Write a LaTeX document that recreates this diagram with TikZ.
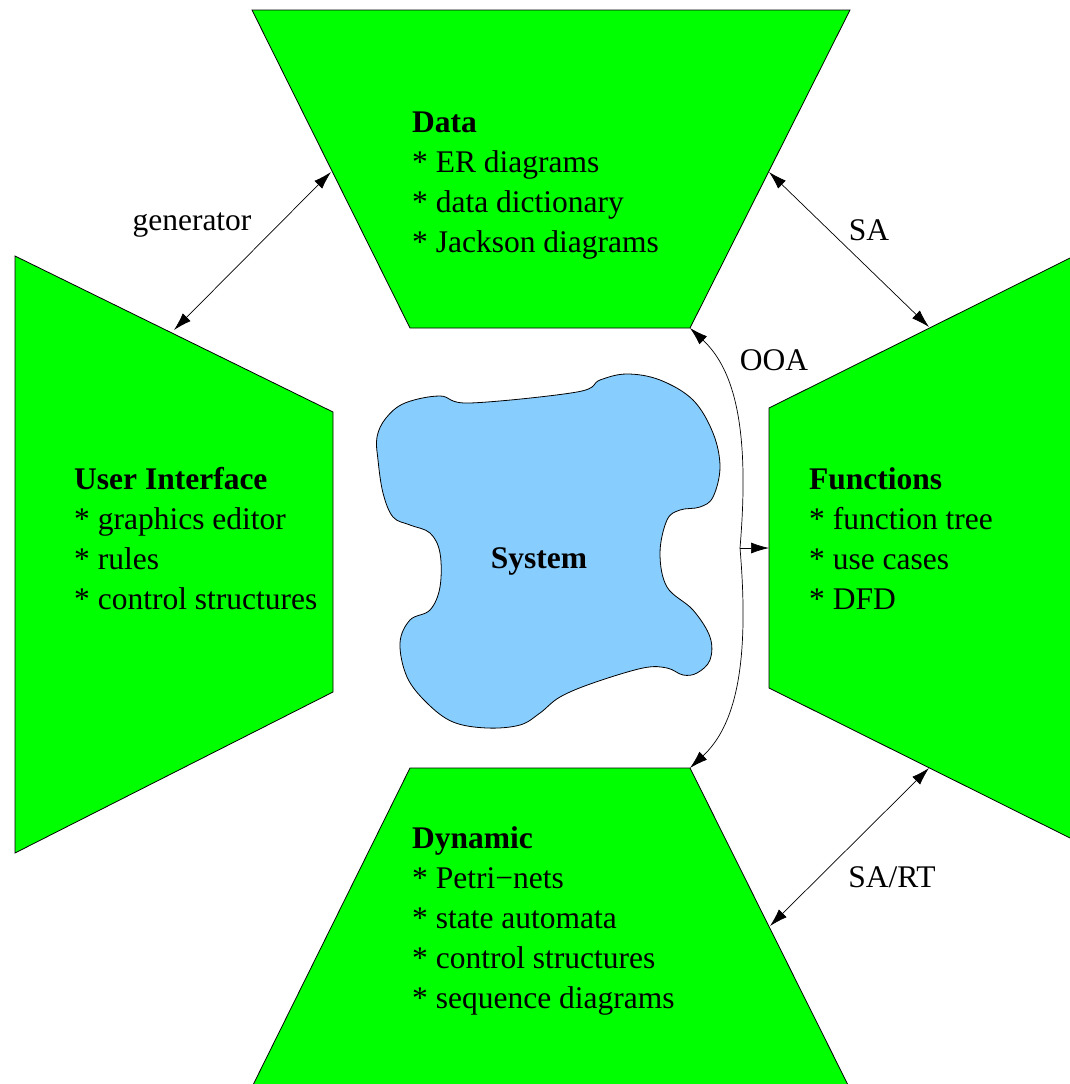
\documentclass[tikz,border=0pt]{standalone}
\usepackage{fontspec}
\setmainfont{Liberation Serif}
\usetikzlibrary{arrows.meta}
\begin{document}
\begin{tikzpicture}[x=1pt,y=-1pt,
  panel/.style={draw=black,line width=0.8pt,fill=green},
  blob/.style={draw=black,line width=0.8pt,fill=skyblue},
  link/.style={line width=0.7pt,{Latex[length=18pt,width=11pt]}-{Latex[length=18pt,width=11pt]}},
  onearrow/.style={line width=0.7pt,-{Latex[length=18pt,width=11pt]}},
  label/.style={font=\fontsize{31.5}{40}\selectfont,inner sep=0pt,anchor=base},
  block/.style={font=\fontsize{31.5}{40}\selectfont,inner sep=0pt,anchor=base west,align=left}
]
\definecolor{green}{RGB}{0,255,0}
\definecolor{skyblue}{RGB}{135,206,255}
\useasboundingbox (0,0) rectangle (1070,1084);

% four view panels
\draw[panel] (252,10) -- (850,10) -- (690,328) -- (410,328) -- cycle;
\draw[panel] (15,256) -- (333,412) -- (333,692) -- (15,853) -- cycle;
\draw[panel] (1072,257) -- (769,408) -- (769,688) -- (1072,839) -- cycle;
\draw[panel] (410,768) -- (690,768) -- (849,1087) -- (252,1087) -- cycle;

% the system blob
\draw[blob] plot[smooth cycle,tension=0.6] coordinates {
  (377,437) (386,418) (405,403) (440,396) (470,403) (577,392) (600,380) (627,374)
  (660,380) (693,400) (713,433) (720,467) (713,497) (700,507) (680,510)
  (667,520) (660,553) (667,587) (693,610) (710,637) (710,660) (697,673)
  (683,675) (667,668) (643,668) (593,683) (560,697) (540,713) (520,725)
  (487,728) (453,722) (427,703) (407,677) (400,643) (410,620) (430,610)
  (440,587) (440,553) (430,533) (410,525) (393,517) (383,493) (378,460)};
\node[label,font=\fontsize{31.5}{40}\selectfont\bfseries] (system) at (539,568) {System};

% text of the panels (anchored at the baseline of the last line)
\node[block] (data) at (412,252) {\textbf{Data}\\* ER diagrams\\* data dictionary\\* Jackson diagrams};
\node[block] (ui) at (74,609) {\textbf{User Interface}\\* graphics editor\\* rules\\* control structures};
\node[block] (func) at (809,609) {\textbf{Functions}\\* function tree\\* use cases\\* DFD};
\node[block] (dyn) at (412,1008) {\textbf{Dynamic}\\* Petri−nets\\* state automata\\* control structures\\* sequence diagrams};

% connector end points on the panel edges
\coordinate (data-l) at (331,172);
\coordinate (ui-t) at (174,330);
\coordinate (data-r) at (769,172);
\coordinate (func-t) at (929,327);
\coordinate (func-b) at (929,768);
\coordinate (dyn-r) at (770,926);
\coordinate (data-se) at (690,328);
\coordinate (dyn-ne) at (690,768);
\coordinate (kink) at (740,548);
\coordinate (func-w) at (769,548);

% connectors
\draw[link] (data-l) -- (ui-t);
\draw[link] (data-r) -- (func-t);
\draw[link] (func-b) -- (dyn-r);
\draw[onearrow] (kink) .. controls (750,430) and (735,370) .. (data-se);
\draw[onearrow] (kink) .. controls (750,666) and (735,726) .. (dyn-ne);
\draw[onearrow] (kink) -- (func-w);

% connector labels
\node[label] (lgen) at (192,230) {generator};
\node[label] (lsa) at (869,240) {SA};
\node[label] (looa) at (774,370) {OOA};
\node[label] (lsart) at (892,887) {SA/RT};
\end{tikzpicture}
\end{document}
